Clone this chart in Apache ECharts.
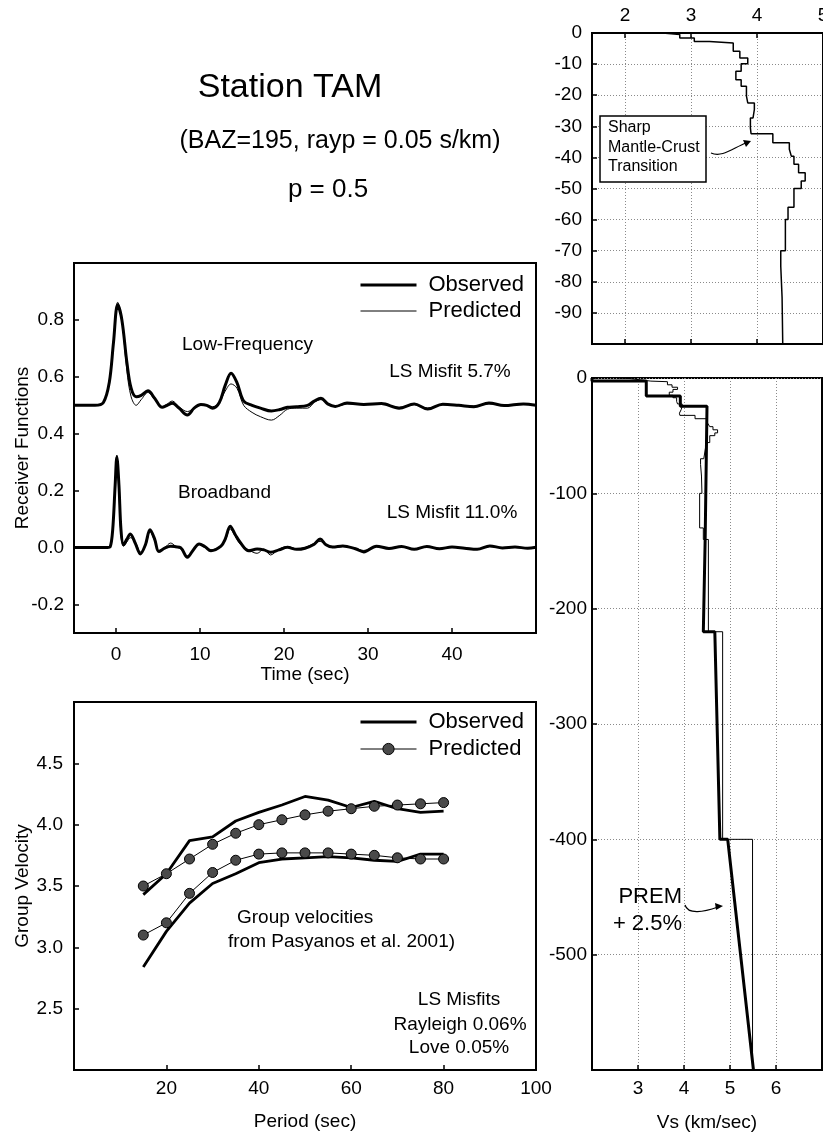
<!DOCTYPE html>
<html><head><meta charset="utf-8">
<script src="https://cdn.jsdelivr.net/npm/echarts@6/dist/echarts.min.js"></script>
<style>html,body{margin:0;padding:0;background:#fff}#c{width:823px;height:1133px}</style>
</head><body><div id="c"></div><script>
// ---------- Receiver functions ----------
const rfTimeLF = [-5,-2.5,-1.5,-0.8,-0.3,0.2,0.7,1.3,1.8,2.4,3.0,3.8,4.6,5.5,6.1,6.7,7.5,8.5,9.3,10.1,10.8,11.5,12.3,13.0,13.7,14.4,15.2,16.2,17.2,18.5,19.5,20.4,21.5,22.8,23.6,24.4,25.2,26.1,27.5,29.5,31.6,33.7,35.5,37.1,38.9,40.8,42.6,44.4,46.2,48.5,50];
const rfObsLF  = [0.50,0.50,0.51,0.58,0.72,0.853,0.80,0.65,0.56,0.53,0.535,0.551,0.525,0.493,0.50,0.507,0.49,0.466,0.49,0.503,0.50,0.49,0.51,0.57,0.613,0.58,0.515,0.50,0.49,0.48,0.485,0.493,0.495,0.50,0.515,0.525,0.505,0.496,0.508,0.503,0.506,0.49,0.505,0.487,0.504,0.50,0.495,0.508,0.499,0.505,0.50];
const rfPredLF = [0.50,0.50,0.51,0.585,0.73,0.862,0.80,0.62,0.53,0.50,0.52,0.545,0.52,0.495,0.505,0.515,0.495,0.478,0.49,0.50,0.50,0.495,0.51,0.55,0.575,0.56,0.50,0.475,0.46,0.448,0.465,0.486,0.49,0.49,0.51,0.52,0.505,0.495,0.505,0.502,0.503,0.493,0.503,0.49,0.502,0.50,0.497,0.505,0.50,0.503,0.50];
const rfTimeBB = [-5,-1,-0.7,-0.4,-0.1,0.1,0.35,0.6,0.9,1.3,1.7,2.3,2.9,3.5,4.05,4.6,5.1,5.8,6.5,7.1,7.7,8.5,9.2,9.9,10.6,11.3,12.5,13.0,13.6,14.2,14.8,15.8,16.8,17.6,18.4,19.4,20.4,21.5,22.5,23.6,24.3,25.0,25.8,27.0,28.5,29.5,31.0,32.5,34.0,35.5,37.0,38.5,40.0,41.5,43.0,44.5,46.0,47.5,49.0,50];
const rfObsBB  = [0,0,0.002,0.06,0.22,0.318,0.22,0.06,0.01,0.03,0.048,0.015,-0.022,0.01,0.063,0.03,-0.014,-0.002,0.005,0.003,0.0,-0.034,-0.008,0.013,0.003,-0.011,0.005,0.03,0.075,0.045,0.018,-0.011,-0.005,-0.008,-0.016,-0.008,0.001,-0.006,-0.002,0.012,0.03,0.01,0.002,0.006,-0.004,-0.015,0.005,-0.003,0.004,-0.006,0.004,-0.004,0.002,-0.002,-0.006,0.006,-0.001,0.002,-0.002,0.001];
const rfPredBB = [0,0,0.002,0.06,0.23,0.325,0.20,0.04,0.005,0.02,0.035,0.02,-0.015,0.005,0.055,0.025,-0.01,0.0,0.016,0.005,-0.005,-0.028,-0.01,0.012,0.0,-0.008,0.006,0.025,0.065,0.04,0.012,-0.008,-0.02,-0.005,-0.026,-0.005,0.004,-0.004,0.0,0.015,0.022,0.008,0.0,0.004,-0.002,-0.01,0.003,-0.002,0.002,-0.004,0.003,-0.003,0.001,-0.001,-0.004,0.004,0.0,0.001,-0.001,0.0];
const rfYLabels = [-0.2,0,0.2,0.4,0.6,0.8];
const rfXLabels = [0,10,20,30,40];

// ---------- Group velocities ----------
const periods     = [15,20,25,30,35,40,45,50,55,60,65,70,75,80];
const gvObsUpper  = [3.43,3.60,3.87,3.90,4.03,4.10,4.16,4.23,4.20,4.14,4.19,4.13,4.10,4.11];
const gvPredUpper = [3.50,3.60,3.72,3.84,3.93,4.00,4.04,4.08,4.11,4.13,4.15,4.16,4.17,4.18];
const gvObsLower  = [2.84,3.13,3.36,3.52,3.60,3.69,3.72,3.73,3.74,3.73,3.71,3.70,3.76,3.76];
const gvPredLower = [3.10,3.20,3.44,3.61,3.71,3.76,3.77,3.77,3.77,3.76,3.75,3.73,3.72,3.72];
const gvYLabels = [2.5,3.0,3.5,4.0,4.5];
const gvXLabels = [20,40,60,80,100];

// ---------- Velocity models ----------
const modelTop = [0,-0.5,-1.6,-2.7,-3.2,-5.9,-8.0,-9.9,-12.3,-15.0,-17.1,-20.3,-22.5,-24.6,-27.3,-30.5,-32.4,-35.3,-37.4,-39.6,-42.2,-44.9,-47.6,-50,-56,-60,-70,-75,-85];
const modelVs  = [2.57,2.83,3.05,3.28,3.64,3.74,3.86,3.76,3.68,3.76,3.84,3.86,3.96,3.94,3.90,3.91,4.24,4.49,4.52,4.56,4.63,4.73,4.67,4.56,4.47,4.43,4.36,4.38,4.39];
const deepTop  = [-100,-130,-140,-220,-400];
const deepVs   = [4.34,4.42,4.53,4.84,5.49];
const premDepth = [0,-2.5,-2.5,-15.5,-15.5,-24.5,-24.5,-140,-220,-220,-400,-400,-600];
const premVs    = [2.0,2.0,3.18,3.18,3.92,3.92,4.50,4.46,4.42,4.67,4.78,4.95,5.51];
const trXLabels = [2,3,4,5];
const trYLabels = [0,-10,-20,-30,-40,-50,-60,-70,-80,-90];
const brXLabels = [3,4,5,6];
const brYLabels = [0,-100,-200,-300,-400,-500];

const FONT = '"Liberation Sans", Arial, Helvetica, sans-serif';
const zip = (a, b) => a.map((v, i) => [v, b[i]]);
function stairs(tops, vs, bottom) {
  const pts = [];
  for (let i = 0; i < tops.length; i++) {
    const next = i + 1 < tops.length ? tops[i + 1] : bottom;
    pts.push([vs[i], tops[i]]);
    pts.push([vs[i], next]);
  }
  return pts;
}
const fullTop = modelTop.concat(deepTop);
const fullVs = modelVs.concat(deepVs);

function ax(o) {
  const out = {
    type: 'value',
    axisLine: { show: true, onZero: false, lineStyle: { color: '#000', width: 2 } },
    axisTick: { show: true, inside: true, length: 5, lineStyle: { color: '#000', width: 1.5 }, customValues: o.ticks },
    axisLabel: { show: o.labels !== null, color: '#000', fontSize: 19, fontFamily: FONT, margin: o.margin, customValues: o.labels || undefined, formatter: o.fmt },
    splitLine: o.split ? { show: true, lineStyle: { color: '#8a8a8a', type: [1, 2], width: 1 } } : { show: false },
    nameTextStyle: { color: '#000', fontSize: 19, fontFamily: FONT },
    nameLocation: 'middle'
  };
  ['gridIndex','min','max','interval','position','name','nameGap','nameMoveOverlap'].forEach(k => { if (o[k] !== undefined) out[k] = o[k]; });
  return out;
}
const f1 = v => Number(v).toFixed(1);
const f0 = v => String(Math.round(v));

const txt = (x, y, text, size, align, extra) => Object.assign({
  type: 'text', x: x, y: y, z: 100,
  style: { text: text, font: size + 'px ' + FONT, fill: '#000', align: align || 'left', verticalAlign: 'middle' }
}, extra || {});

const gridBase = { show: true, borderColor: '#000', borderWidth: 2, backgroundColor: 'transparent', containLabel: false, outerBoundsMode: 'none' };
const legendText = { fontSize: 22, color: '#000', fontFamily: FONT, lineHeight: 22, padding: [0, 0, 0, 7] };

const option = {
  animation: false,
  backgroundColor: '#fff',
  grid: [
    Object.assign({ left: 74, top: 263, width: 462, height: 370 }, gridBase),
    Object.assign({ left: 74, top: 702, width: 462, height: 368 }, gridBase),
    Object.assign({ left: 592, top: 33, width: 231, height: 311 }, gridBase),
    Object.assign({ left: 592, top: 378, width: 230, height: 692 }, gridBase)
  ],
  xAxis: [
    ax({ gridIndex: 0, min: -5, max: 50, interval: 5, ticks: rfXLabels, labels: rfXLabels, fmt: f0, margin: 12, name: 'Time (sec)', nameGap: 30 }),
    ax({ gridIndex: 1, min: 0, max: 100, interval: 20, ticks: gvXLabels, labels: gvXLabels, fmt: f0, margin: 9, name: 'Period (sec)', nameGap: 42 }),
    ax({ gridIndex: 2, min: 1.5, max: 5, interval: 0.5, position: 'top', ticks: trXLabels, labels: trXLabels, fmt: f0, margin: 8, split: true }),
    ax({ gridIndex: 2, min: 1.5, max: 5, interval: 0.5, position: 'bottom', ticks: trXLabels, labels: null }),
    ax({ gridIndex: 3, min: 2, max: 7, interval: 1, ticks: brXLabels, labels: brXLabels, fmt: f0, margin: 9, split: true, name: 'Vs (km/sec)', nameGap: 43 })
  ],
  yAxis: [
    ax({ gridIndex: 0, min: -0.3, max: 1.0, interval: 0.1, ticks: rfYLabels, labels: rfYLabels, fmt: f1, margin: 10, name: 'Receiver Functions', nameGap: 42, nameMoveOverlap: false }),
    ax({ gridIndex: 1, min: 2, max: 5, interval: 0.5, ticks: gvYLabels, labels: gvYLabels, fmt: f1, margin: 11, name: 'Group Velocity', nameGap: 42, nameMoveOverlap: false }),
    ax({ gridIndex: 2, min: -100, max: 0, interval: 10, ticks: trYLabels, labels: trYLabels, fmt: f0, margin: 10, split: true }),
    ax({ gridIndex: 3, min: -600, max: 0, interval: 100, ticks: brYLabels, labels: brYLabels, fmt: f0, margin: 5, split: true })
  ],
  legend: [
    { data: [{ name: 'Observed', itemStyle: { opacity: 0 }, lineStyle: { width: 3, color: '#000' } },
             { name: 'Predicted', itemStyle: { opacity: 0 }, lineStyle: { width: 1, color: '#000' } }],
      orient: 'vertical', left: 359, top: 274, padding: 0, itemWidth: 56, itemHeight: 14, itemGap: 4, selectedMode: false,
      textStyle: legendText },
    { data: [{ name: 'Observed ', itemStyle: { opacity: 0 }, lineStyle: { width: 3, color: '#000' } },
             { name: 'Predicted ', itemStyle: { color: '#4a4a4a', borderColor: '#000', borderWidth: 1 }, lineStyle: { width: 1, color: '#000' } }],
      orient: 'vertical', left: 359, top: 711, padding: 0, itemWidth: 56, itemHeight: 14, itemGap: 5, selectedMode: false,
      formatter: n => n.trim(), textStyle: legendText }
  ],
  series: [
    { name: 'Observed', type: 'line', xAxisIndex: 0, yAxisIndex: 0, data: zip(rfTimeLF, rfObsLF), smooth: 0.35, symbol: 'none', color: '#000', lineStyle: { color: '#000', width: 3 }, z: 3 },
    { name: 'Predicted', type: 'line', xAxisIndex: 0, yAxisIndex: 0, data: zip(rfTimeLF, rfPredLF), smooth: 0.35, symbol: 'none', color: '#000', lineStyle: { color: '#000', width: 1 }, z: 4 },
    { name: 'Observed', type: 'line', xAxisIndex: 0, yAxisIndex: 0, data: zip(rfTimeBB, rfObsBB), smooth: 0.35, symbol: 'none', color: '#000', lineStyle: { color: '#000', width: 3 }, z: 3 },
    { name: 'Predicted', type: 'line', xAxisIndex: 0, yAxisIndex: 0, data: zip(rfTimeBB, rfPredBB), smooth: 0.35, symbol: 'none', color: '#000', lineStyle: { color: '#000', width: 1 }, z: 4 },

    { name: 'Observed ', type: 'line', xAxisIndex: 1, yAxisIndex: 1, data: zip(periods, gvObsUpper), symbol: 'none', color: '#000', lineStyle: { color: '#000', width: 2.8 }, z: 3 },
    { name: 'Observed ', type: 'line', xAxisIndex: 1, yAxisIndex: 1, data: zip(periods, gvObsLower), symbol: 'none', color: '#000', lineStyle: { color: '#000', width: 2.8 }, z: 3 },
    { name: 'Predicted ', type: 'line', xAxisIndex: 1, yAxisIndex: 1, data: zip(periods, gvPredUpper), symbol: 'circle', symbolSize: 10, showAllSymbol: true,
      itemStyle: { color: '#4a4a4a', borderColor: '#000', borderWidth: 1 }, lineStyle: { color: '#000', width: 1 }, z: 4 },
    { name: 'Predicted ', type: 'line', xAxisIndex: 1, yAxisIndex: 1, data: zip(periods, gvPredLower), symbol: 'circle', symbolSize: 10, showAllSymbol: true,
      itemStyle: { color: '#4a4a4a', borderColor: '#000', borderWidth: 1 }, lineStyle: { color: '#000', width: 1 }, z: 4 },

    { name: 'model', type: 'line', xAxisIndex: 2, yAxisIndex: 2, data: stairs(modelTop, modelVs, -100), symbol: 'none', color: '#000', lineStyle: { color: '#000', width: 1.5 }, z: 3 },
    { name: 'model', type: 'line', xAxisIndex: 4, yAxisIndex: 3, data: stairs(fullTop, fullVs, -600), symbol: 'none', color: '#000', lineStyle: { color: '#000', width: 1 }, z: 3 },
    { name: 'PREM', type: 'line', xAxisIndex: 4, yAxisIndex: 3, data: zip(premVs, premDepth), symbol: 'none', color: '#000', lineStyle: { color: '#000', width: 3 }, z: 4 }
  ],
  graphic: [
    txt(290, 88, 'Station TAM', 34, 'center'),
    txt(340, 141, '(BAZ=195, rayp = 0.05 s/km)', 25, 'center'),
    txt(328, 190, 'p = 0.5', 26, 'center'),
    txt(182, 345, 'Low-Frequency', 19, 'left'),
    txt(178, 493, 'Broadband', 19, 'left'),
    txt(450, 372, 'LS Misfit 5.7%', 19, 'center'),
    txt(452, 513, 'LS Misfit 11.0%', 19, 'center'),
    txt(237, 918, 'Group velocities', 19, 'left'),
    txt(228, 942, 'from Pasyanos et al. 2001)', 19, 'left'),
    txt(459, 1000, 'LS Misfits', 19, 'center'),
    txt(460, 1025, 'Rayleigh 0.06%', 19, 'center'),
    txt(459, 1048, 'Love 0.05%', 19, 'center'),
    { type: 'rect', z: 100, shape: { x: 600, y: 116, width: 106, height: 66 }, style: { fill: '#fff', stroke: '#000', lineWidth: 1.5 } },
    txt(608, 128, 'Sharp', 16, 'left', { z: 101 }),
    txt(608, 148, 'Mantle-Crust', 16, 'left', { z: 101 }),
    txt(608, 167, 'Transition', 16, 'left', { z: 101 }),
    { type: 'bezierCurve', z: 100, shape: { x1: 711, y1: 153, cpx1: 722, cpy1: 158, cpx2: 733, cpy2: 148, x2: 746, y2: 143 }, style: { stroke: '#000', fill: null, lineWidth: 1.2 } },
    { type: 'polygon', z: 100, shape: { points: [[751, 141], [743, 140], [746, 147]] }, style: { fill: '#000' } },
    txt(682, 897, 'PREM', 22, 'right'),
    txt(682, 924, '+ 2.5%', 22, 'right'),
    { type: 'bezierCurve', z: 100, shape: { x1: 685, y1: 905, cpx1: 688, cpy1: 915, cpx2: 704, cpy2: 912, x2: 718, y2: 907 }, style: { stroke: '#000', fill: null, lineWidth: 1.2 } },
    { type: 'polygon', z: 100, shape: { points: [[723, 906], [715, 903], [716, 910]] }, style: { fill: '#000' } }
  ]
};
const chart = echarts.init(document.getElementById('c'), null, { renderer: 'canvas', width: 823, height: 1133 });
chart.setOption(option);
</script></body></html>
